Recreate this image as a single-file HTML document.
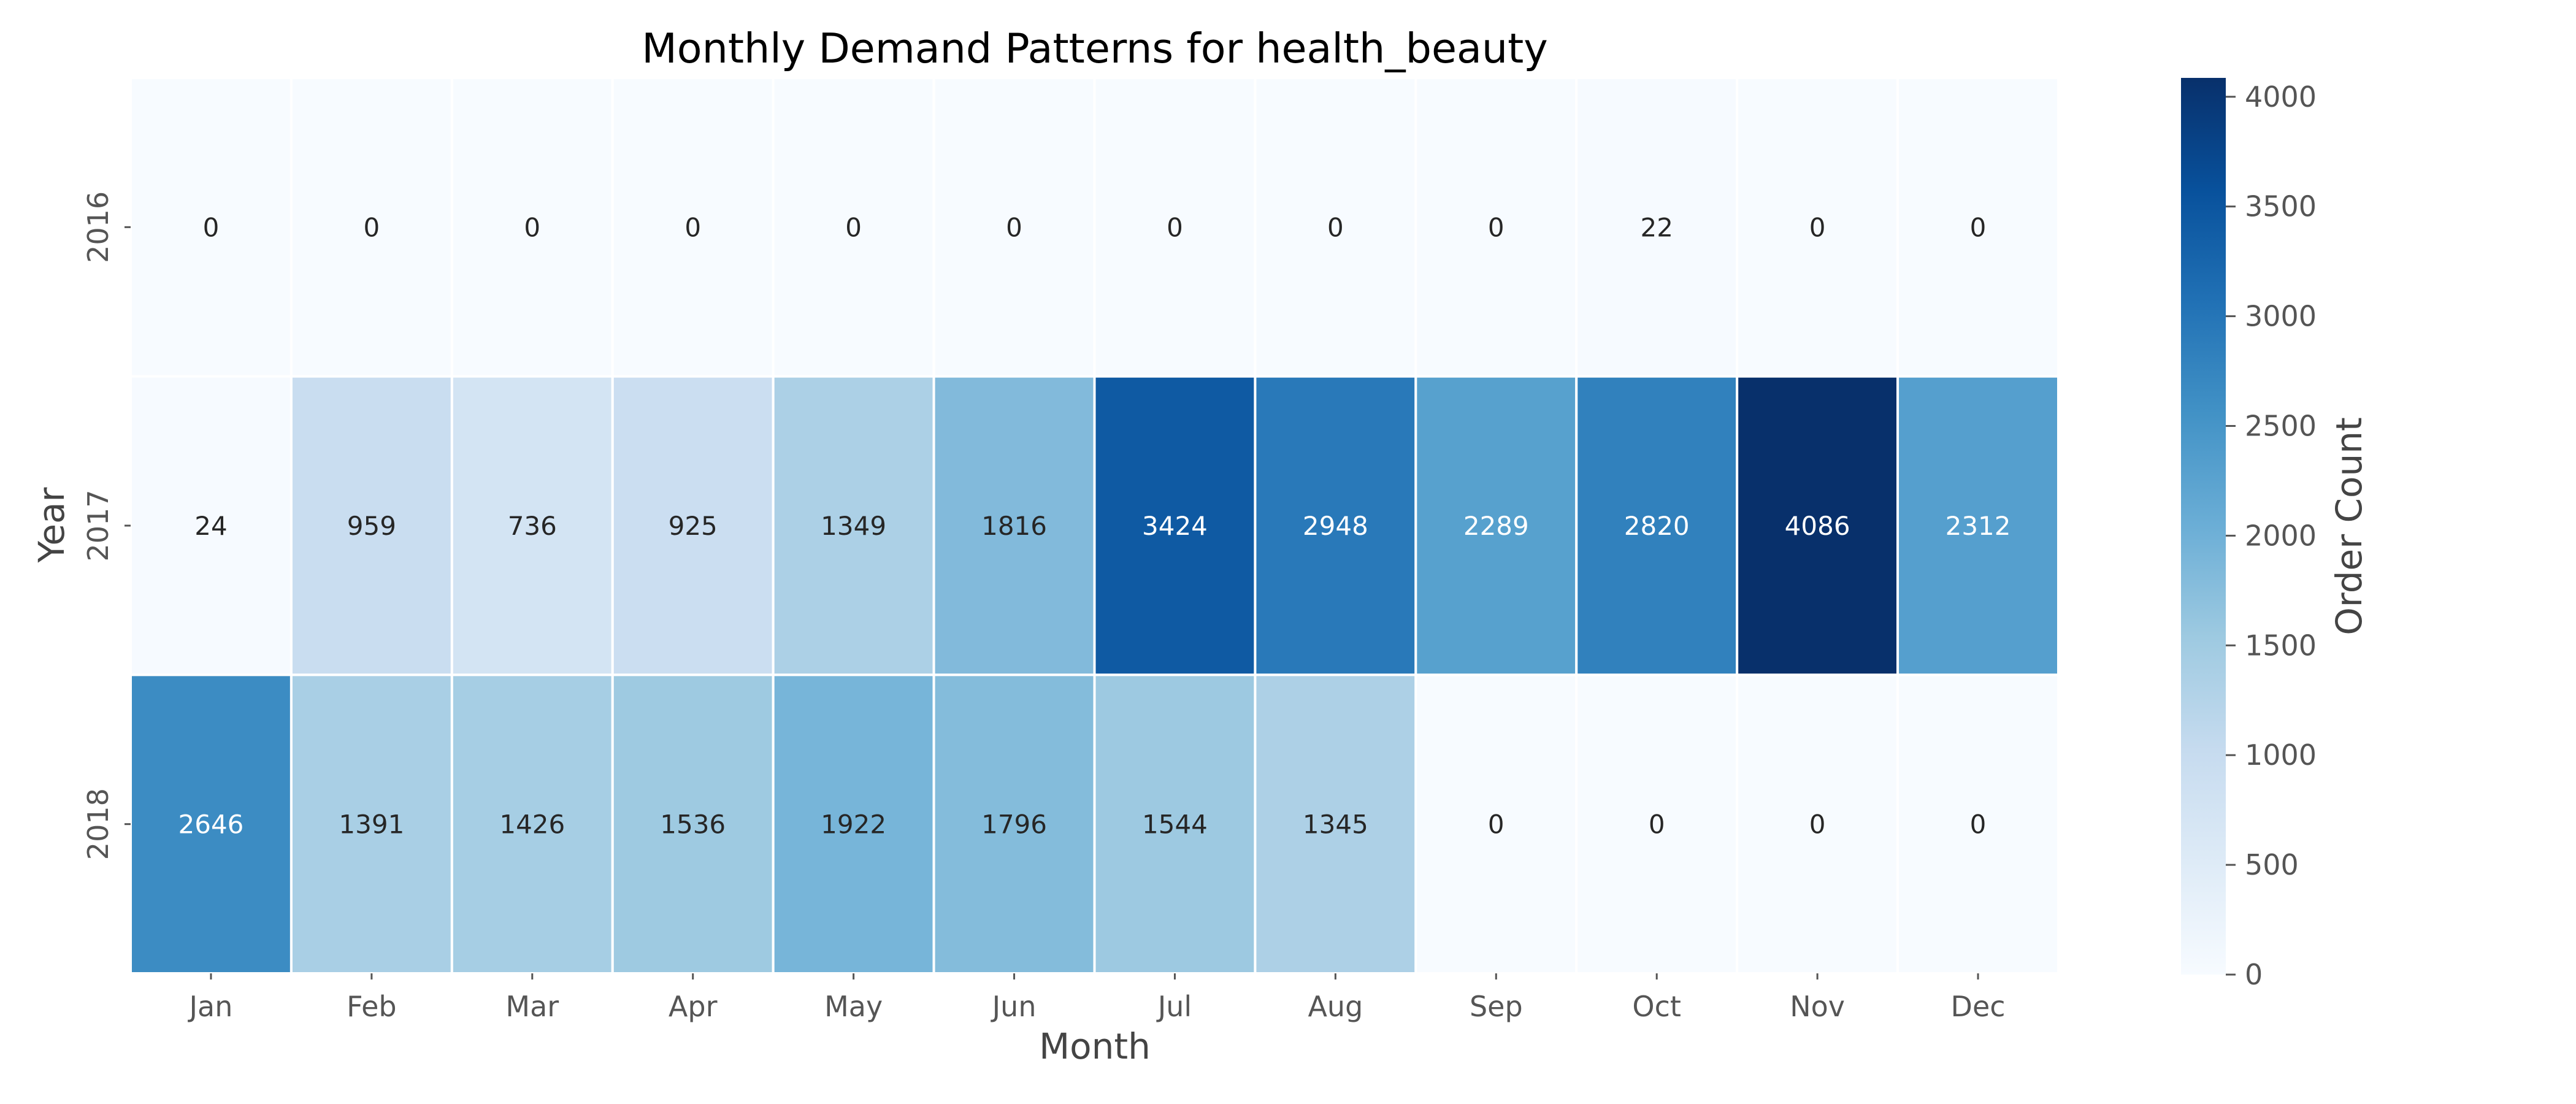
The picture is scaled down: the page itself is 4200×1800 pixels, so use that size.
<!DOCTYPE html>
<html><head><meta charset="utf-8"><style>
html,body{margin:0;padding:0;background:#fff;}
svg{display:block;font-family:"DejaVu Sans","Liberation Sans",sans-serif;}
</style></head><body>
<svg id="chart" width="4200" height="1800" viewBox="0 0 4200 1800" xmlns="http://www.w3.org/2000/svg">
<text x="1785" y="102" font-size="66.7" text-anchor="middle" fill="#000">Monthly Demand Patterns for health_beauty</text>
<g id="cells"></g>
<g id="xaxis"></g>
<g id="yaxis"></g>
<text x="1785" y="1726" font-size="58" text-anchor="middle" fill="#444">Month</text>
<text transform="translate(104,856) rotate(-90)" font-size="58" text-anchor="middle" fill="#444">Year</text>
<defs><linearGradient id="cbgrad" x1="0" y1="1" x2="0" y2="0">
<stop offset="0" stop-color="#f7fbff"/><stop offset="0.125" stop-color="#deebf7"/><stop offset="0.25" stop-color="#c6dbef"/><stop offset="0.375" stop-color="#9ecae1"/><stop offset="0.5" stop-color="#6baed6"/><stop offset="0.625" stop-color="#4292c6"/><stop offset="0.75" stop-color="#2171b5"/><stop offset="0.875" stop-color="#08519c"/><stop offset="1" stop-color="#08306b"/>
</linearGradient></defs>
<rect x="3556" y="127" width="73" height="1462" fill="url(#cbgrad)"/>
<g id="cbaxis"></g>
<text transform="translate(3850,858) rotate(-90)" font-size="58" text-anchor="middle" fill="#444">Order Count</text>
</svg>
<script>
const months = ["Jan","Feb","Mar","Apr","May","Jun","Jul","Aug","Sep","Oct","Nov","Dec"];
const years = ["2016","2017","2018"];
const values2016 = [0,0,0,0,0,0,0,0,0,22,0,0];
const values2017 = [24,959,736,925,1349,1816,3424,2948,2289,2820,4086,2312];
const values2018 = [2646,1391,1426,1536,1922,1796,1544,1345,0,0,0,0];
const cbTicks = [0,500,1000,1500,2000,2500,3000,3500,4000];

const NS = "http://www.w3.org/2000/svg";
const rows = [values2016, values2017, values2018];
const X0 = 213, X1 = 3356, Y0 = 127, Y1 = 1587;
const cw = (X1 - X0) / months.length, ch = (Y1 - Y0) / years.length;
const allVals = rows.flat();
const vmin = Math.min(...allVals), vmax = Math.max(...allVals);
const xPos = i => X0 + i * cw;
const yPos = j => Y0 + j * ch;
const CB_TOP = 127, CB_BOT = 1589;
const cbY = v => CB_BOT - (v - vmin) / (vmax - vmin) * (CB_BOT - CB_TOP);

const stops = ["#f7fbff","#deebf7","#c6dbef","#9ecae1","#6baed6","#4292c6","#2171b5","#08519c","#08306b"].map(h => [1,3,5].map(k => parseInt(h.substr(k,2),16)));
function cmap(v){
  let t = (v - vmin) / (vmax - vmin); t = Math.max(0, Math.min(1, t));
  const p = t * (stops.length - 1); const i = Math.min(Math.floor(p), stops.length - 2); const f = p - i;
  return stops[i].map((c,k) => Math.round(c + (stops[i+1][k] - c) * f));
}
function lum(rgb){
  const c = rgb.map(x => { x /= 255; return x <= 0.03928 ? x / 12.92 : Math.pow((x + 0.055) / 1.055, 2.4); });
  return 0.2126*c[0] + 0.7152*c[1] + 0.0722*c[2];
}
function mk(tag, attrs, parent){ const e = document.createElementNS(NS, tag); for (const k in attrs) e.setAttribute(k, attrs[k]); parent.appendChild(e); return e; }

const cells = document.getElementById("cells");
rows.forEach((row, j) => {
  row.forEach((v, i) => {
    const rgb = cmap(v);
    const r = mk("rect", {x: xPos(i), y: yPos(j), width: cw, height: ch, fill: `rgb(${rgb})`, stroke: "#fff", "stroke-width": 4}, cells);
    
    
    const t = mk("text", {x: xPos(i) + cw/2, y: yPos(j) + ch/2 + 15, "font-size": 42, "text-anchor": "middle", fill: lum(rgb) > 0.408 ? "#262626" : "#fff"}, cells);
    
    
    t.textContent = v;
  });
});
const xa = document.getElementById("xaxis");
months.forEach((m, i) => {
  const cx = xPos(i) + cw/2;
  const tk = mk("line", {x1: cx, x2: cx, y1: Y1, y2: Y1 + 10, stroke: "#555", "stroke-width": 3}, xa);
  
  
  const t = mk("text", {x: cx, y: 1657, "font-size": 46, "text-anchor": "middle", fill: "#555"}, xa);
  
  
  t.textContent = m;
});
const ya = document.getElementById("yaxis");
years.forEach((y, j) => {
  const cy = yPos(j) + ch/2;
  const tk = mk("line", {x1: X0 - 10, x2: X0, y1: cy, y2: cy, stroke: "#555", "stroke-width": 3}, ya);
  
  
  const t = mk("text", {transform: `translate(176,${cy}) rotate(-90)`, "font-size": 46, "text-anchor": "middle", fill: "#555"}, ya);
  
  
  t.textContent = y;
});
const cba = document.getElementById("cbaxis");
cbTicks.forEach(v => {
  const y = cbY(v);
  const tk = mk("line", {x1: 3629, x2: 3645, y1: y, y2: y, stroke: "#555", "stroke-width": 3}, cba);
  
  
  const t = mk("text", {x: 3660, y: y + 16, "font-size": 46, fill: "#555"}, cba);
  
  
  t.textContent = v;
});
</script>
</body></html>
